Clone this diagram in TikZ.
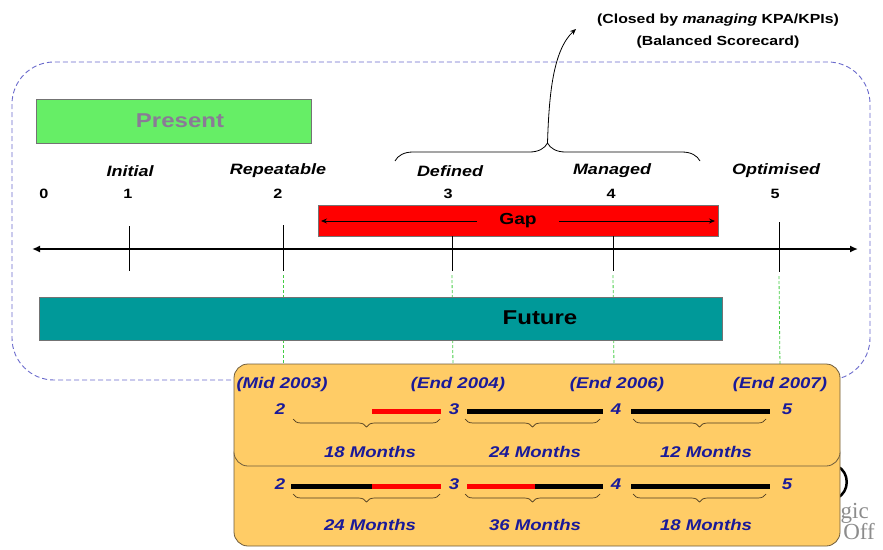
\documentclass[tikz,border=0pt]{standalone}
\usepackage{fontspec}
\setmainfont[FakeStretch=1.2]{Liberation Sans}
\newfontfamily\logofont{Liberation Serif}
\usetikzlibrary{decorations.pathreplacing,arrows.meta}
\definecolor{presentgreen}{HTML}{66EE66}
\definecolor{presenttext}{HTML}{8A7A96}
\definecolor{futureteal}{HTML}{009999}
\definecolor{gapred}{HTML}{FF0000}
\definecolor{panel}{HTML}{FFCC66}
\definecolor{panelline}{HTML}{6E5C3C}
\definecolor{navy}{HTML}{1A1A99}
\definecolor{dashblue}{HTML}{6A6ACC}
\definecolor{guide}{HTML}{44CC44}
\definecolor{bracecol}{HTML}{4A3A20}
\begin{document}
\begin{tikzpicture}[x=1pt,y=-1pt,
  stage/.style={font=\fontsize{15}{17}\selectfont\bfseries\itshape, inner sep=0pt},
  num/.style={font=\fontsize{13.5}{15}\selectfont\bfseries, inner sep=0pt},
  plan/.style={text=navy, font=\fontsize{15.5}{17}\selectfont\bfseries\itshape, inner sep=0pt},
  notetext/.style={font=\fontsize{13.2}{15}\selectfont\bfseries, inner sep=0pt},
  logotext/.style={text=black!45, font=\logofont\fontsize{23}{25}\selectfont, anchor=base west, inner sep=0pt},
  bar/.style={draw=black!55, line width=0.8pt},
  seg/.style={line width=5pt},
  tick/.style={line width=1pt},
  guideline/.style={guide, line width=0.8pt, dash pattern=on 3pt off 2pt},
  panelbox/.style={fill=panel, draw=panelline, line width=0.8pt, rounded corners=14pt},
  downbrace/.style={draw=bracecol, line width=0.7pt, decorate, decoration={brace, mirror, amplitude=8pt}},
]
\useasboundingbox (0,0) rectangle (883,549);

% logo fragments lying behind the plan panels
\draw[line width=2.5pt] (837,466) .. controls (850,472) and (850,492) .. (837,498);
\node[logotext] (logoA) at (829,518) {ogic};
\node[logotext] (logoB) at (822,539) {R Off};

% dashed frame round the maturity scale
\draw[dashblue, line width=0.9pt, dash pattern=on 5pt off 3pt, rounded corners=42pt] (12,62) rectangle (870,380);

% present state
\node[fill=presentgreen, bar, minimum width=275pt, minimum height=44pt, inner sep=0pt] (present) at (173.5,121) {};
\node[text=presenttext, font=\fontsize{20}{22}\selectfont\bfseries] (presentlbl) at (180,121) {Present};

% stage names and numbers
\node[stage] (s1) at (130,171) {Initial};
\node[stage] (s2) at (278,171) {Repeatable};
\node[stage] (s3) at (450,171) {Defined};
\node[stage] (s4) at (612,171) {Managed};
\node[stage] (s5) at (776,171) {Optimised};
\node[num] (n0) at (44,194) {0};
\node[num] (n1) at (128,194) {1};
\node[num] (n2) at (278,194) {2};
\node[num] (n3) at (448,194) {3};
\node[num] (n4) at (611,194) {4};
\node[num] (n5) at (775,194) {5};

% brace over Defined..Managed and the note it points to
\coordinate (braceL) at (395,161);
\coordinate (braceR) at (700,161);
\coordinate (bracetip) at (547.5,143);
\draw[line width=0.8pt, decorate, decoration={brace, amplitude=18pt}] (braceL) -- (braceR);
\node[notetext] (note1) at (718,20) {(Closed by \textit{managing} KPA/KPIs)};
\node[notetext] (note2) at (718,42) {(Balanced Scorecard)};
\coordinate (notearrow) at (576,29);
\draw[line width=0.8pt, -{Stealth[length=6pt,width=5pt]}] (bracetip) .. controls (549,95) and (553,50) .. (notearrow);

% gap bar
\node[fill=gapred, bar, minimum width=400pt, minimum height=31pt, inner sep=0pt] (gap) at (518,220.5) {};
\node[font=\fontsize{16}{18}\selectfont\bfseries, inner xsep=22pt, inner ysep=0pt] (gaplbl) at (518,221) {Gap};
\coordinate (gapL) at (321,221);
\coordinate (gapR) at (715,221);
\draw[line width=0.8pt, -{Stealth[length=6pt,width=5pt]}] (gaplbl.west) -- (gapL);
\draw[line width=0.8pt, -{Stealth[length=6pt,width=5pt]}] (gaplbl.east) -- (gapR);

% maturity axis
\coordinate (axL) at (32,249);
\coordinate (axR) at (858,249);
\draw[line width=2pt, {Latex[length=8pt,width=7pt]}-{Latex[length=8pt,width=7pt]}] (axL) -- (axR);
\coordinate (t1a) at (129,226); \coordinate (t1b) at (129,271);
\coordinate (t2a) at (283,225); \coordinate (t2b) at (283,271);
\coordinate (t3a) at (452,236); \coordinate (t3b) at (452,271);
\coordinate (t4a) at (613,236); \coordinate (t4b) at (613,271);
\coordinate (t5a) at (779,222); \coordinate (t5b) at (779,272);
\foreach \t in {1,...,5} \draw[tick] (t\t a) -- (t\t b);

% guides down to the plans
\coordinate (g2) at (283.5,368); \coordinate (g3) at (453,368);
\coordinate (g4) at (614,368); \coordinate (g5) at (780,368);
\draw[guideline] (283.5,275) -- (g2);
\draw[guideline] (t3b) ++(0,4) -- (g3);
\draw[guideline] (t4b) ++(0,4) -- (g4);
\draw[guideline] (t5b) ++(0,4) -- (g5);

% future state
\node[fill=futureteal, bar, minimum width=683pt, minimum height=43pt, inner sep=0pt] (future) at (380.5,318.5) {};
\node[font=\fontsize{20}{22}\selectfont\bfseries] (futurelbl) at (540,318) {Future};

% plan panels
\path[panelbox] (234,440) rectangle (840,546);
\path[panelbox] (234,364) rectangle (840,466);

% first plan
\node[plan] (d2) at (282,384) {(Mid 2003)};
\node[plan] (d3) at (458,384) {(End 2004)};
\node[plan] (d4) at (617,384) {(End 2006)};
\node[plan] (d5) at (780,384) {(End 2007)};
\node[plan] (a2) at (280,409) {2};
\node[plan] (a3) at (454,409) {3};
\node[plan] (a4) at (616,409) {4};
\node[plan] (a5) at (787,409) {5};
\coordinate (a23m) at (372,411);
\draw[seg, red] (a23m) -- ([xshift=-8pt]a3.west |- a23m);
\draw[seg, black] ([xshift=8pt]a3.east |- a23m) -- ([xshift=-8pt]a4.west |- a23m);
\draw[seg, black] ([xshift=10pt]a4.east |- a23m) -- ([xshift=-12pt]a5.west |- a23m);
\coordinate (ab1l) at (293,419); \coordinate (ab1r) at (440,419);
\coordinate (ab2l) at (465,419); \coordinate (ab2r) at (600,419);
\coordinate (ab3l) at (633,419); \coordinate (ab3r) at (766,419);
\draw[downbrace] (ab1l) -- (ab1r);
\draw[downbrace] (ab2l) -- (ab2r);
\draw[downbrace] (ab3l) -- (ab3r);
\node[plan] (am1) at (370,452) {18 Months};
\node[plan] (am2) at (535,452) {24 Months};
\node[plan] (am3) at (706,452) {12 Months};

% second plan
\node[plan] (b2) at (280,484) {2};
\node[plan] (b3) at (454,484) {3};
\node[plan] (b4) at (616,484) {4};
\node[plan] (b5) at (787,484) {5};
\coordinate (b23m) at (372,486);
\coordinate (b34m) at (535,486);
\draw[seg, black] ([xshift=6pt]b2.east |- b23m) -- (b23m);
\draw[seg, red] (b23m) -- ([xshift=-8pt]b3.west |- b23m);
\draw[seg, red] ([xshift=8pt]b3.east |- b34m) -- (b34m);
\draw[seg, black] (b34m) -- ([xshift=-8pt]b4.west |- b34m);
\draw[seg, black] ([xshift=10pt]b4.east |- b34m) -- ([xshift=-12pt]b5.west |- b34m);
\coordinate (bb1l) at (293,494); \coordinate (bb1r) at (440,494);
\coordinate (bb2l) at (465,494); \coordinate (bb2r) at (600,494);
\coordinate (bb3l) at (633,494); \coordinate (bb3r) at (766,494);
\draw[downbrace] (bb1l) -- (bb1r);
\draw[downbrace] (bb2l) -- (bb2r);
\draw[downbrace] (bb3l) -- (bb3r);
\node[plan] (bm1) at (370,525) {24 Months};
\node[plan] (bm2) at (535,525) {36 Months};
\node[plan] (bm3) at (706,525) {18 Months};
\end{tikzpicture}
\end{document}
